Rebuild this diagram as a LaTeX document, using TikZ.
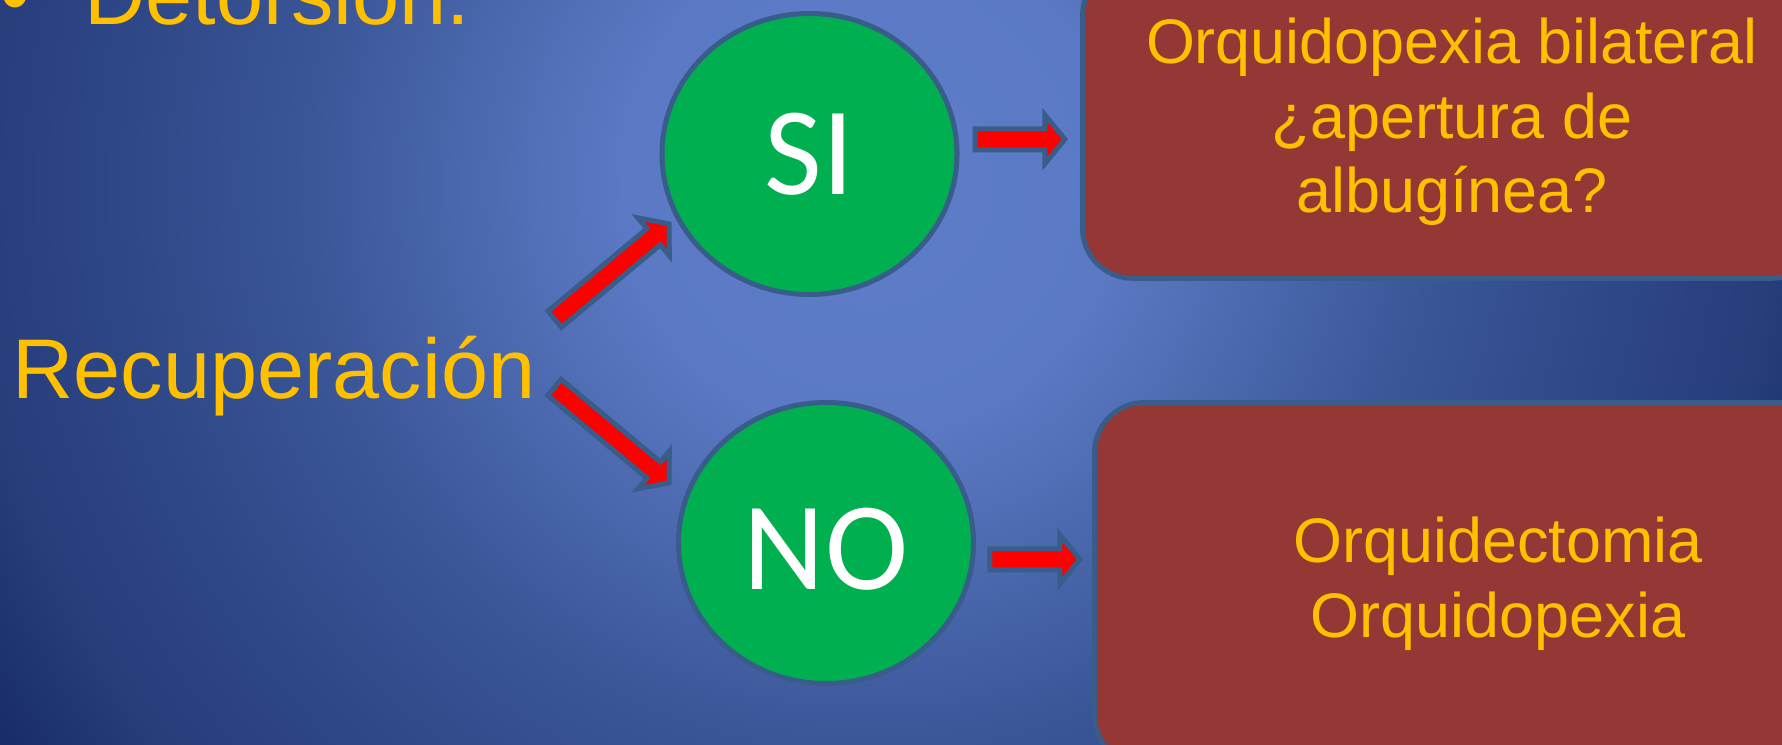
\documentclass[tikz,border=0pt]{standalone}
\usepackage{fontspec}
\setmainfont{Liberation Sans}
\newfontfamily\calibrisans{Carlito}
\usetikzlibrary{shapes.geometric,calc}

\definecolor{bgcentre}{HTML}{5E7DC8}
\definecolor{bglight}{HTML}{5B79C4}
\definecolor{bgmid}{HTML}{3B5697}
\definecolor{bgdeep}{HTML}{304A8A}
\definecolor{bgedge}{HTML}{273D7C}
\definecolor{bgcorner}{HTML}{152967}
\definecolor{edgeblue}{HTML}{385D8A}
\definecolor{okgreen}{HTML}{00B050}
\definecolor{boxred}{HTML}{953735}
\definecolor{arrowred}{HTML}{FF0000}
\definecolor{gold}{HTML}{FFC000}

% radial background, radii in bp at natural size
\pgfdeclareradialshading{slidebg}{\pgfpointorigin}{%
  color(0bp)=(bgcentre); color(70bp)=(bglight); color(160bp)=(bgmid);
  color(202bp)=(bgdeep); color(255bp)=(bgedge); color(299bp)=(bgcorner);
  color(320bp)=(bgcorner)}

\tikzset{
    yesno/.style={ellipse, draw=edgeblue, fill=okgreen, line width=0.05cm,
        text=white, inner sep=0pt,
        font=\calibrisans\fontsize{35.7}{40}\selectfont},
    redbox/.style={rectangle, rounded corners=0.5cm, draw=edgeblue,
        fill=boxred, line width=0.05cm, text=gold, align=center,
        font=\fontsize{17.9}{21.3}\selectfont},
    bigtext/.style={text=gold, inner sep=0pt, anchor=base west,
        font=\fontsize{24.1}{28}\selectfont},
    blockarrow/.style={draw=edgeblue, fill=arrowred, line width=0.05cm,
        line join=miter,
        to path={let \p1=($(\tikztotarget)-(\tikztostart)$),
            \n1={atan2(\y1,\x1)} in
            ($(\tikztostart)+(\n1+90:2.99pt)$)
            -- ($(\tikztotarget)+(\n1+180:5.69pt)+(\n1+90:2.99pt)$)
            -- ($(\tikztotarget)+(\n1+180:5.69pt)+(\n1+90:6.97pt)$)
            -- (\tikztotarget)
            -- ($(\tikztotarget)+(\n1+180:5.69pt)+(\n1-90:6.97pt)$)
            -- ($(\tikztotarget)+(\n1+180:5.69pt)+(\n1-90:2.99pt)$)
            -- ($(\tikztostart)+(\n1-90:2.99pt)$)
            -- cycle}}
}

\begin{document}
\begin{tikzpicture}
    \useasboundingbox (0,0) rectangle (17.82,7.44);
    \clip (0,0) rectangle (17.82,7.44);
    % slide background
    \node[inner sep=0pt] (bg) at (8.7,5.6) {\pgfuseshading{slidebg}};

    % left texts
    \node[bigtext] (bullet) at (0.0,7.19) {•};
    \node[bigtext] (detorsion) at (0.835,7.19) {Detorsión.};
    \node[bigtext] (rec) at (0.12,3.46) {Recuperación};

    % answers
    \node[yesno, minimum width=2.95cm, minimum height=2.81cm] (si) at (8.095,5.90) {SI};
    \node[yesno, minimum width=2.95cm, minimum height=2.81cm, text height=0.93cm] (no) at (8.26,2.01) {NO};

    % what to do
    \node[redbox, minimum width=7.39cm, minimum height=3.13cm] (bilat) at (14.52,6.222)
        {Orquidopexia bilateral\\¿apertura de\\albugínea?};
    \node[redbox, minimum width=8.07cm, minimum height=3.63cm] (ecto) at (14.98,1.60)
        {Orquidectomia\\Orquidopexia};

    % block arrows
    \coordinate (siTail) at (5.547,4.248);
    \coordinate (siTip) at (6.690,5.201);
    \coordinate (noTail) at (5.544,3.566);
    \coordinate (noTip) at (6.690,2.612);
    \coordinate (bilatTail) at (9.752,6.047);
    \coordinate (bilatTip) at (10.648,6.047);
    \coordinate (ectoTail) at (9.898,1.847);
    \coordinate (ectoTip) at (10.798,1.847);
    \draw[blockarrow] (siTail) to (siTip);
    \draw[blockarrow] (noTail) to (noTip);
    \draw[blockarrow] (bilatTail) to (bilatTip);
    \draw[blockarrow] (ectoTail) to (ectoTip);
\end{tikzpicture}
\end{document}
